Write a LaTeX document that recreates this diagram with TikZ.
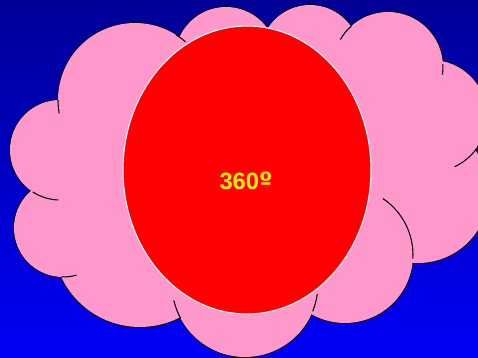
\documentclass[tikz,border=0pt]{standalone}
\usepackage{fontspec}
\setmainfont{Liberation Sans}
\newfontfamily\ordfont{DejaVu Sans}
\usetikzlibrary{shapes.geometric}

\definecolor{skytop}{RGB}{0,0,150}
\definecolor{skybottom}{RGB}{0,0,248}
\definecolor{cloudpink}{RGB}{255,153,204}

\begin{document}
\begin{tikzpicture}[x=0.02cm, y=-0.02cm,
    lobe/.style={fill=cloudpink, draw=black, line width=1pt},
    lobefill/.style={fill=cloudpink},
    curl/.style={draw=black, line width=0.6pt},
    bigoval/.style={ellipse, fill=red, draw=white, line width=0.6pt, minimum width=4.96cm, minimum height=5.76cm, inner sep=0pt},
    degreelabel/.style={text=yellow, font=\bfseries\fontsize{13.5}{16}\selectfont},
  ]
  \useasboundingbox (0,0) rectangle (478,358);
  \shade[top color=skytop, bottom color=skybottom] (0,0) rectangle (478,358);

  % cloud lobes: centre x / centre y / radius
  \def\lobes{135/100/77, 226/58/51, 310/55/50, 388/67/55, 431/116/56, 418/192/71, 345/255/68, 245/284/73, 140/240/87, 63/228/49, 60/150/50}
  \foreach \cx/\cy/\r in \lobes
    \draw[lobe] (\cx,\cy) circle[radius=\r];
  \foreach \cx/\cy/\r in \lobes
    \fill[lobefill] (\cx,\cy) circle[radius=\r];
  \fill[lobefill] (245,170) ellipse[x radius=190, y radius=110];

  % little inner curls where the lobes meet
  \foreach \cx/\cy/\r/\a/\b in {135/100/77/-58/-49, 135/100/77/180/170, 388/67/55/-150/-132, 388/67/55/-3/8, 431/116/56/25/65, 345/255/68/-56/3, 245/284/73/167/152, 245/284/73/8/22, 63/228/49/92/74, 60/150/50/123/92}
    \draw[curl] (\cx,\cy) ++(\a:\r) arc[start angle=\a, end angle=\b, radius=\r];

  \node[bigoval] (globe) at (247,170) {};
  \node[degreelabel] (degrees) at (246,181) {360{\ordfont º}};
\end{tikzpicture}
\end{document}
